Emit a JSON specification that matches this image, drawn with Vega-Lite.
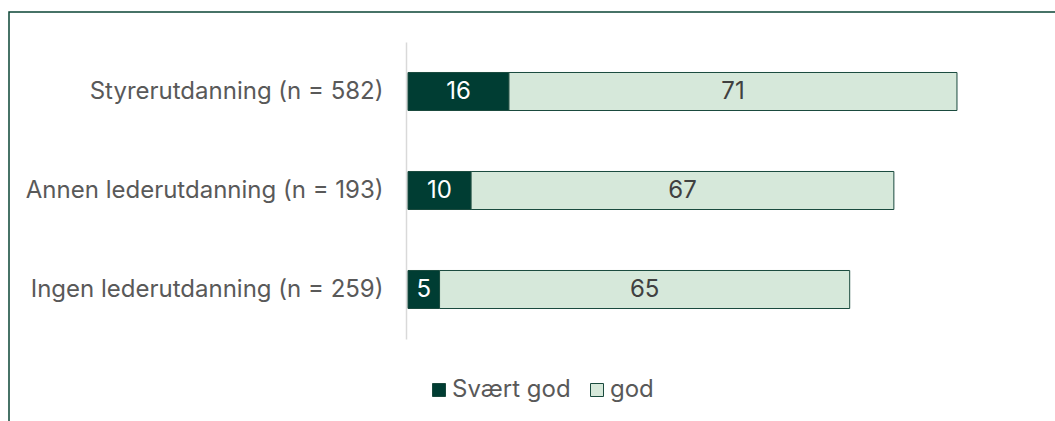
{
  "$schema": "https://vega.github.io/schema/vega-lite/v6.json",
  "width": 1050,
  "height": 415,
  "autosize": "none",
  "padding": {"left": 9, "top": 12, "right": 0, "bottom": 0},
  "config": {
    "view": {"stroke": "#0b4536", "strokeWidth": 1.5},
    "font": "Inter"
  },
  "data": {
    "values": [
      {"kategori": "Styrerutdanning (n = 582)", "svar": "Svært god", "rekkefolge": 1, "verdi": 16},
      {"kategori": "Styrerutdanning (n = 582)", "svar": "god", "rekkefolge": 2, "verdi": 71},
      {"kategori": "Annen lederutdanning (n = 193)", "svar": "Svært god", "rekkefolge": 1, "verdi": 10},
      {"kategori": "Annen lederutdanning (n = 193)", "svar": "god", "rekkefolge": 2, "verdi": 67},
      {"kategori": "Ingen lederutdanning (n = 259)", "svar": "Svært god", "rekkefolge": 1, "verdi": 5},
      {"kategori": "Ingen lederutdanning (n = 259)", "svar": "god", "rekkefolge": 2, "verdi": 65}
    ]
  },
  "transform": [
    {"stack": "verdi", "groupby": ["kategori"], "sort": [{"field": "rekkefolge", "order": "ascending"}], "as": ["start", "slutt"]},
    {"calculate": "(datum.start + datum.slutt) / 2", "as": "midt"}
  ],
  "encoding": {
    "y": {
      "field": "kategori",
      "type": "nominal",
      "sort": ["Styrerutdanning (n = 582)", "Annen lederutdanning (n = 193)", "Ingen lederutdanning (n = 259)"],
      "scale": {"range": [30, 327], "paddingInner": 0.616, "paddingOuter": 0.308},
      "axis": {
        "title": null,
        "offset": -397,
        "ticks": false,
        "domainColor": "#d9d9d9",
        "domainWidth": 1.5,
        "labelFontSize": 24,
        "labelColor": "#595959",
        "labelPadding": 23,
        "labelLimit": 0,
        "labelFont": "Inter"
      }
    }
  },
  "layer": [
    {
      "mark": {"type": "bar", "stroke": "#1a4a3e", "strokeWidth": 1},
      "encoding": {
        "x": {
          "field": "start",
          "type": "quantitative",
          "scale": {"domain": [0, 100], "range": [399, 1030]},
          "axis": null
        },
        "x2": {"field": "slutt"},
        "color": {
          "field": "svar",
          "type": "nominal",
          "scale": {"domain": ["Svært god", "god"], "range": ["#003d33", "#d6e8da"]},
          "legend": {
            "title": null,
            "orient": "none",
            "direction": "horizontal",
            "legendX": 418,
            "legendY": 366,
            "symbolType": "square",
            "symbolSize": 169,
            "symbolStrokeColor": "#1a4a3e",
            "symbolStrokeWidth": 1,
            "labelFontSize": 24,
            "labelColor": "#595959",
            "labelFont": "Inter",
            "labelOffset": 1,
            "columnPadding": 14
          }
        }
      }
    },
    {
      "mark": {"type": "text", "fontSize": 24, "baseline": "middle", "align": "center"},
      "encoding": {
        "x": {"field": "midt", "type": "quantitative"},
        "text": {"field": "verdi", "type": "quantitative"},
        "color": {
          "condition": {"test": "datum.svar === 'Svært god'", "value": "#ffffff"},
          "value": "#404040"
        }
      }
    }
  ]
}
